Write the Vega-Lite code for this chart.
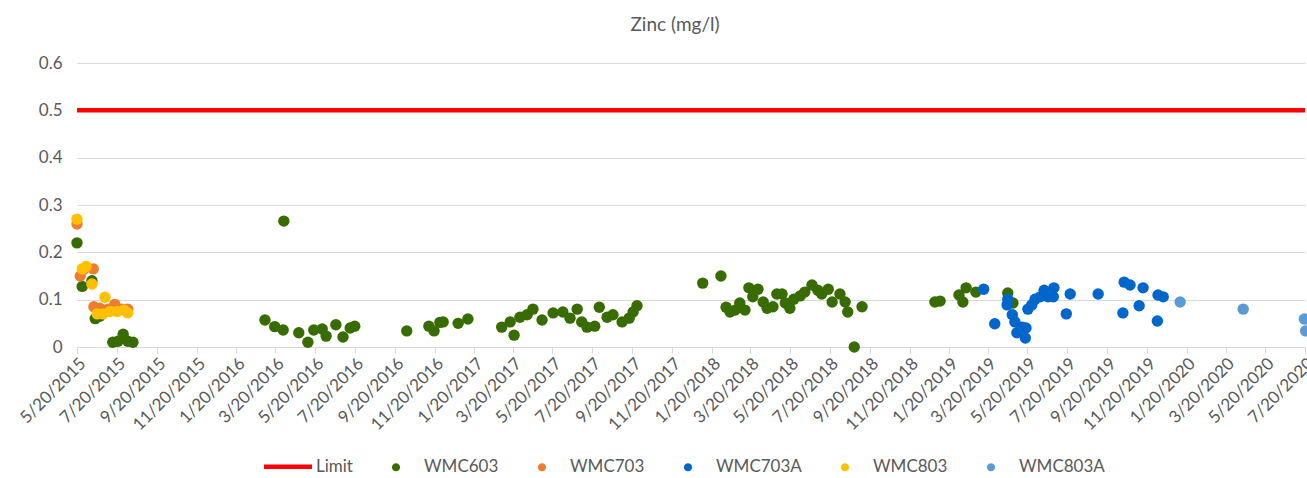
{
  "$schema": "https://vega.github.io/schema/vega-lite/v6.json",
  "width": 1228,
  "height": 284,
  "autosize": {"type": "none"},
  "padding": {"left": 77, "top": 63, "right": 2, "bottom": 131},
  "background": "white",
  "config": {"view": {"stroke": null}, "font": "Lato"},
  "title": {"text": "Zinc (mg/l)", "font": "Lato", "fontSize": 19, "fontWeight": "normal", "color": "#595959", "anchor": "middle", "offset": 19, "dx": -16},
  "datasets": {
    "limit": [
      {"date": "5/20/2015", "series": "Limit", "value": 0.5},
      {"date": "7/20/2020", "series": "Limit", "value": 0.5}
    ],
    "points": [
      {"date": "5/20/2015", "series": "WMC603", "value": 0.22},
      {"date": "5/28/2015", "series": "WMC603", "value": 0.128},
      {"date": "6/12/2015", "series": "WMC603", "value": 0.14},
      {"date": "6/17/2015", "series": "WMC603", "value": 0.06},
      {"date": "6/24/2015", "series": "WMC603", "value": 0.065},
      {"date": "7/14/2015", "series": "WMC603", "value": 0.01},
      {"date": "7/22/2015", "series": "WMC603", "value": 0.012},
      {"date": "7/30/2015", "series": "WMC603", "value": 0.027},
      {"date": "8/6/2015", "series": "WMC603", "value": 0.012},
      {"date": "8/14/2015", "series": "WMC603", "value": 0.01},
      {"date": "3/4/2016", "series": "WMC603", "value": 0.057},
      {"date": "3/19/2016", "series": "WMC603", "value": 0.043},
      {"date": "4/1/2016", "series": "WMC603", "value": 0.036},
      {"date": "4/2/2016", "series": "WMC603", "value": 0.266},
      {"date": "4/25/2016", "series": "WMC603", "value": 0.03},
      {"date": "5/9/2016", "series": "WMC603", "value": 0.01},
      {"date": "5/18/2016", "series": "WMC603", "value": 0.036},
      {"date": "5/31/2016", "series": "WMC603", "value": 0.038},
      {"date": "6/6/2016", "series": "WMC603", "value": 0.023},
      {"date": "6/21/2016", "series": "WMC603", "value": 0.047},
      {"date": "7/2/2016", "series": "WMC603", "value": 0.021},
      {"date": "7/13/2016", "series": "WMC603", "value": 0.04},
      {"date": "7/20/2016", "series": "WMC603", "value": 0.044},
      {"date": "10/8/2016", "series": "WMC603", "value": 0.034},
      {"date": "11/11/2016", "series": "WMC603", "value": 0.044},
      {"date": "11/19/2016", "series": "WMC603", "value": 0.034},
      {"date": "11/28/2016", "series": "WMC603", "value": 0.052},
      {"date": "12/3/2016", "series": "WMC603", "value": 0.053},
      {"date": "12/26/2016", "series": "WMC603", "value": 0.05},
      {"date": "1/10/2017", "series": "WMC603", "value": 0.059},
      {"date": "3/3/2017", "series": "WMC603", "value": 0.042},
      {"date": "3/16/2017", "series": "WMC603", "value": 0.053},
      {"date": "3/22/2017", "series": "WMC603", "value": 0.025},
      {"date": "3/31/2017", "series": "WMC603", "value": 0.063},
      {"date": "4/11/2017", "series": "WMC603", "value": 0.068},
      {"date": "4/20/2017", "series": "WMC603", "value": 0.08},
      {"date": "5/4/2017", "series": "WMC603", "value": 0.057},
      {"date": "5/21/2017", "series": "WMC603", "value": 0.072},
      {"date": "6/5/2017", "series": "WMC603", "value": 0.074},
      {"date": "6/16/2017", "series": "WMC603", "value": 0.061},
      {"date": "6/27/2017", "series": "WMC603", "value": 0.08},
      {"date": "7/4/2017", "series": "WMC603", "value": 0.053},
      {"date": "7/12/2017", "series": "WMC603", "value": 0.042},
      {"date": "7/24/2017", "series": "WMC603", "value": 0.044},
      {"date": "7/31/2017", "series": "WMC603", "value": 0.084},
      {"date": "8/12/2017", "series": "WMC603", "value": 0.063},
      {"date": "8/21/2017", "series": "WMC603", "value": 0.068},
      {"date": "9/4/2017", "series": "WMC603", "value": 0.053},
      {"date": "9/15/2017", "series": "WMC603", "value": 0.061},
      {"date": "9/21/2017", "series": "WMC603", "value": 0.074},
      {"date": "9/27/2017", "series": "WMC603", "value": 0.087},
      {"date": "1/6/2018", "series": "WMC603", "value": 0.135},
      {"date": "2/3/2018", "series": "WMC603", "value": 0.15},
      {"date": "2/11/2018", "series": "WMC603", "value": 0.084},
      {"date": "2/17/2018", "series": "WMC603", "value": 0.074},
      {"date": "2/25/2018", "series": "WMC603", "value": 0.078},
      {"date": "3/4/2018", "series": "WMC603", "value": 0.093},
      {"date": "3/12/2018", "series": "WMC603", "value": 0.078},
      {"date": "3/18/2018", "series": "WMC603", "value": 0.125},
      {"date": "3/24/2018", "series": "WMC603", "value": 0.106},
      {"date": "4/1/2018", "series": "WMC603", "value": 0.122},
      {"date": "4/9/2018", "series": "WMC603", "value": 0.095},
      {"date": "4/15/2018", "series": "WMC603", "value": 0.082},
      {"date": "4/24/2018", "series": "WMC603", "value": 0.085},
      {"date": "4/30/2018", "series": "WMC603", "value": 0.112},
      {"date": "5/8/2018", "series": "WMC603", "value": 0.112},
      {"date": "5/13/2018", "series": "WMC603", "value": 0.093},
      {"date": "5/20/2018", "series": "WMC603", "value": 0.082},
      {"date": "5/26/2018", "series": "WMC603", "value": 0.101},
      {"date": "6/5/2018", "series": "WMC603", "value": 0.108},
      {"date": "6/12/2018", "series": "WMC603", "value": 0.116},
      {"date": "6/23/2018", "series": "WMC603", "value": 0.131},
      {"date": "7/2/2018", "series": "WMC603", "value": 0.12},
      {"date": "7/8/2018", "series": "WMC603", "value": 0.112},
      {"date": "7/18/2018", "series": "WMC603", "value": 0.122},
      {"date": "7/24/2018", "series": "WMC603", "value": 0.095},
      {"date": "8/5/2018", "series": "WMC603", "value": 0.112},
      {"date": "8/13/2018", "series": "WMC603", "value": 0.095},
      {"date": "8/17/2018", "series": "WMC603", "value": 0.074},
      {"date": "8/27/2018", "series": "WMC603", "value": 0.0},
      {"date": "9/8/2018", "series": "WMC603", "value": 0.085},
      {"date": "12/29/2018", "series": "WMC603", "value": 0.095},
      {"date": "1/6/2019", "series": "WMC603", "value": 0.097},
      {"date": "2/4/2019", "series": "WMC603", "value": 0.11},
      {"date": "2/10/2019", "series": "WMC603", "value": 0.095},
      {"date": "2/15/2019", "series": "WMC603", "value": 0.125},
      {"date": "3/2/2019", "series": "WMC603", "value": 0.116},
      {"date": "4/20/2019", "series": "WMC603", "value": 0.114},
      {"date": "4/28/2019", "series": "WMC603", "value": 0.093},
      {"date": "5/20/2015", "series": "WMC703", "value": 0.26},
      {"date": "5/25/2015", "series": "WMC703", "value": 0.15},
      {"date": "5/31/2015", "series": "WMC703", "value": 0.165},
      {"date": "6/14/2015", "series": "WMC703", "value": 0.165},
      {"date": "6/15/2015", "series": "WMC703", "value": 0.085},
      {"date": "6/24/2015", "series": "WMC703", "value": 0.082},
      {"date": "7/7/2015", "series": "WMC703", "value": 0.08},
      {"date": "7/17/2015", "series": "WMC703", "value": 0.09},
      {"date": "7/28/2015", "series": "WMC703", "value": 0.08},
      {"date": "8/6/2015", "series": "WMC703", "value": 0.08},
      {"date": "3/14/2019", "series": "WMC703A", "value": 0.122},
      {"date": "3/31/2019", "series": "WMC703A", "value": 0.049},
      {"date": "4/19/2019", "series": "WMC703A", "value": 0.089},
      {"date": "4/20/2019", "series": "WMC703A", "value": 0.101},
      {"date": "4/27/2019", "series": "WMC703A", "value": 0.068},
      {"date": "5/1/2019", "series": "WMC703A", "value": 0.053},
      {"date": "5/4/2019", "series": "WMC703A", "value": 0.03},
      {"date": "5/12/2019", "series": "WMC703A", "value": 0.042},
      {"date": "5/17/2019", "series": "WMC703A", "value": 0.019},
      {"date": "5/18/2019", "series": "WMC703A", "value": 0.04},
      {"date": "5/21/2019", "series": "WMC703A", "value": 0.08},
      {"date": "5/27/2019", "series": "WMC703A", "value": 0.089},
      {"date": "6/1/2019", "series": "WMC703A", "value": 0.101},
      {"date": "6/9/2019", "series": "WMC703A", "value": 0.106},
      {"date": "6/15/2019", "series": "WMC703A", "value": 0.12},
      {"date": "6/21/2019", "series": "WMC703A", "value": 0.106},
      {"date": "6/29/2019", "series": "WMC703A", "value": 0.106},
      {"date": "6/30/2019", "series": "WMC703A", "value": 0.125},
      {"date": "7/19/2019", "series": "WMC703A", "value": 0.07},
      {"date": "7/25/2019", "series": "WMC703A", "value": 0.112},
      {"date": "9/6/2019", "series": "WMC703A", "value": 0.112},
      {"date": "10/14/2019", "series": "WMC703A", "value": 0.072},
      {"date": "10/16/2019", "series": "WMC703A", "value": 0.137},
      {"date": "10/25/2019", "series": "WMC703A", "value": 0.131},
      {"date": "11/8/2019", "series": "WMC703A", "value": 0.087},
      {"date": "11/14/2019", "series": "WMC703A", "value": 0.125},
      {"date": "12/6/2019", "series": "WMC703A", "value": 0.055},
      {"date": "12/7/2019", "series": "WMC703A", "value": 0.11},
      {"date": "12/15/2019", "series": "WMC703A", "value": 0.106},
      {"date": "5/20/2015", "series": "WMC803", "value": 0.27},
      {"date": "5/28/2015", "series": "WMC803", "value": 0.165},
      {"date": "6/3/2015", "series": "WMC803", "value": 0.17},
      {"date": "6/12/2015", "series": "WMC803", "value": 0.133},
      {"date": "6/20/2015", "series": "WMC803", "value": 0.07},
      {"date": "6/29/2015", "series": "WMC803", "value": 0.07},
      {"date": "7/2/2015", "series": "WMC803", "value": 0.105},
      {"date": "7/10/2015", "series": "WMC803", "value": 0.075},
      {"date": "7/21/2015", "series": "WMC803", "value": 0.075},
      {"date": "7/31/2015", "series": "WMC803", "value": 0.078},
      {"date": "8/6/2015", "series": "WMC803", "value": 0.072},
      {"date": "1/10/2020", "series": "WMC803A", "value": 0.095},
      {"date": "4/16/2020", "series": "WMC803A", "value": 0.08},
      {"date": "7/19/2020", "series": "WMC803A", "value": 0.059},
      {"date": "7/21/2020", "series": "WMC803A", "value": 0.034}
    ]
  },
  "encoding": {
    "x": {
      "field": "date", "type": "temporal",
      "scale": {"domain": [{"year": 2015, "month": 5, "date": 20}, {"year": 2020, "month": 7, "date": 20}]},
      "axis": {
        "title": null, "grid": false, "format": "%-m/%-d/%Y", "labelAngle": -45,
        "labelFont": "Lato", "labelFontSize": 17, "labelColor": "#595959",
        "labelOverlap": false, "labelFlush": false, "labelBound": false, "labelPadding": 2,
        "tickColor": "#d9d9d9", "tickSize": 6, "domainColor": "#d9d9d9",
        "values": [
          {"year": 2015, "month": 5, "date": 20}, {"year": 2015, "month": 7, "date": 20}, {"year": 2015, "month": 9, "date": 20}, {"year": 2015, "month": 11, "date": 20},
          {"year": 2016, "month": 1, "date": 20}, {"year": 2016, "month": 3, "date": 20}, {"year": 2016, "month": 5, "date": 20}, {"year": 2016, "month": 7, "date": 20}, {"year": 2016, "month": 9, "date": 20}, {"year": 2016, "month": 11, "date": 20},
          {"year": 2017, "month": 1, "date": 20}, {"year": 2017, "month": 3, "date": 20}, {"year": 2017, "month": 5, "date": 20}, {"year": 2017, "month": 7, "date": 20}, {"year": 2017, "month": 9, "date": 20}, {"year": 2017, "month": 11, "date": 20},
          {"year": 2018, "month": 1, "date": 20}, {"year": 2018, "month": 3, "date": 20}, {"year": 2018, "month": 5, "date": 20}, {"year": 2018, "month": 7, "date": 20}, {"year": 2018, "month": 9, "date": 20}, {"year": 2018, "month": 11, "date": 20},
          {"year": 2019, "month": 1, "date": 20}, {"year": 2019, "month": 3, "date": 20}, {"year": 2019, "month": 5, "date": 20}, {"year": 2019, "month": 7, "date": 20}, {"year": 2019, "month": 9, "date": 20}, {"year": 2019, "month": 11, "date": 20},
          {"year": 2020, "month": 1, "date": 20}, {"year": 2020, "month": 3, "date": 20}, {"year": 2020, "month": 5, "date": 20}, {"year": 2020, "month": 7, "date": 20}
        ]
      }
    },
    "y": {
      "field": "value", "type": "quantitative",
      "scale": {"domain": [0, 0.6], "nice": false, "zero": true},
      "axis": {
        "title": null, "values": [0, 0.1, 0.2, 0.3, 0.4, 0.5, 0.6], "format": "~g",
        "grid": true, "gridColor": "#d9d9d9", "gridWidth": 1, "domain": false, "ticks": false,
        "labelFont": "Lato", "labelFontSize": 17, "labelColor": "#595959", "labelPadding": 15
      }
    },
    "color": {
      "field": "series", "type": "nominal",
      "scale": {
        "domain": ["Limit", "WMC603", "WMC703", "WMC703A", "WMC803", "WMC803A"],
        "range": ["#ff0000", "#386b00", "#ed7d31", "#0066cc", "#ffc000", "#5b9bd5"]
      },
      "legend": {
        "title": null, "orient": "none", "legendX": 187, "legendY": 395, "direction": "horizontal", "columns": 6,
        "padding": 0, "symbolSize": 2304, "labelFont": "Lato", "labelFontSize": 17, "labelColor": "#595959",
        "symbolOffset": 15.5, "labelOffset": 19.5, "columnPadding": 19, "symbolType": "circle",
        "encode": {
          "symbols": {
            "update": {
              "shape": {"signal": "datum.value === 'Limit' ? 'M-1,0L1,0' : 'M-0.17,0A0.17,0.17,0,1,1,0.17,0A0.17,0.17,0,1,1,-0.17,0Z'"},
              "size": {"value": 2304},
              "strokeWidth": {"signal": "datum.value === 'Limit' ? 4.5 : 0"},
              "stroke": {"scale": "color", "field": "value"},
              "fill": {"scale": "color", "field": "value"},
              "opacity": {"value": 1},
              "fillOpacity": {"value": 1},
              "strokeOpacity": {"value": 1}
            }
          }
        }
      }
    }
  },
  "layer": [
    {
      "data": {"name": "limit"},
      "mark": {"type": "line", "strokeWidth": 4.5}
    },
    {
      "data": {"name": "points"},
      "mark": {"type": "circle", "size": 130, "opacity": 1}
    }
  ]
}
